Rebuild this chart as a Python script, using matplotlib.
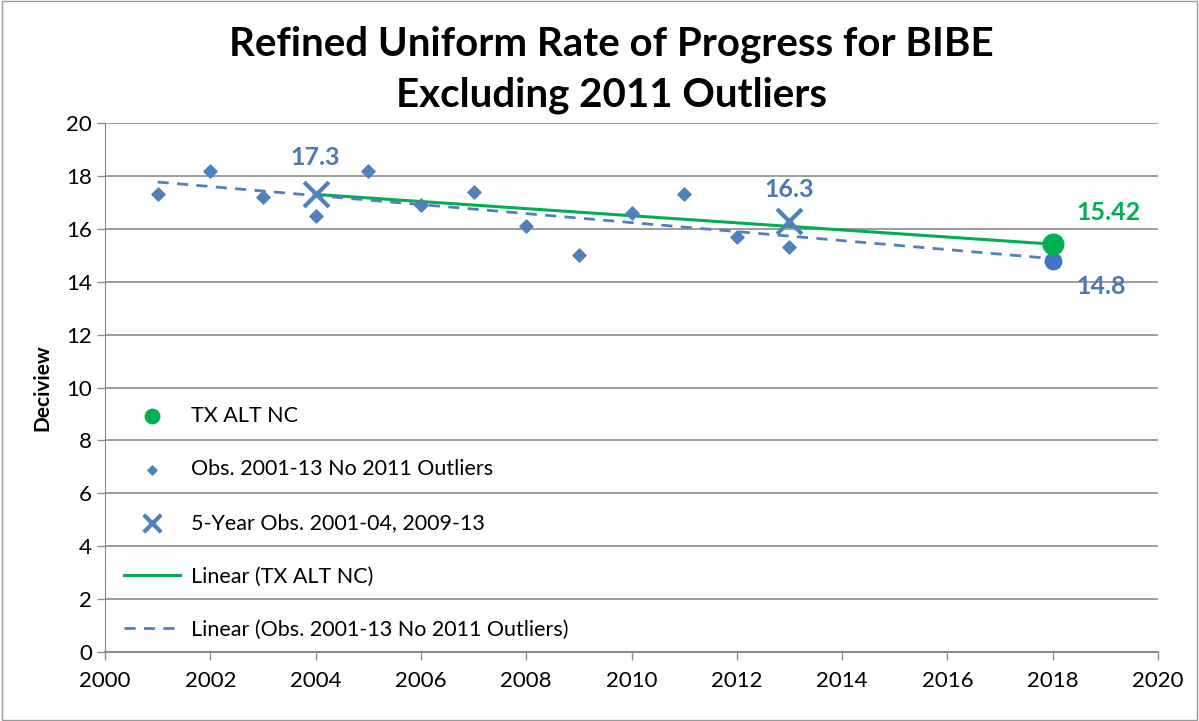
import numpy as np
import matplotlib
matplotlib.use('Agg')
import matplotlib.pyplot as plt

plt.rcParams['font.family'] = ['Lato', 'DejaVu Sans']

# Dane
obs_years = [2001, 2002, 2003, 2004, 2005, 2006, 2007, 2008, 2009, 2010, 2011, 2012, 2013]
obs_values = [17.3, 18.2, 17.2, 16.5, 18.2, 16.9, 17.4, 16.1, 15.0, 16.6, 17.3, 15.7, 15.3]
five_year_years = [2004, 2013]
five_year_values = [17.3, 16.3]
tx_years = [2004, 2018]
tx_values = [17.3, 15.42]
obs_trend_end_year = 2018
obs_trend_end_value = 14.8

blue = '#4F81BD'
label_blue = '#4A7AB5'
green = '#00B050'
grid_gray = '#8C8C8C'

fig = plt.figure(figsize=(11.99, 7.21), dpi=100)
ax = fig.add_axes([105 / 1199, 1 - 652 / 721, (1158 - 105) / 1199, (652 - 123) / 721])

# Linie trendu
tx_fit = np.polyfit(tx_years, tx_values, 1)
tx_x = np.array([2004, 2018])
obs_fit = np.polyfit(obs_years, obs_values, 1)
obs_x = np.array([2001, 2018])

ax.plot(tx_x, np.polyval(tx_fit, tx_x), color=green, lw=2.2, zorder=3, label='Linear (TX ALT NC)')
ax.plot(obs_x, np.polyval(obs_fit, obs_x), color=blue, lw=2, ls=(0, (4, 3)), zorder=3,
        label='Linear (Obs. 2001-13 No 2011 Outliers)')

# Punkty
ax.scatter([2018], [15.42], s=220, color=green, zorder=5, label='TX ALT NC')
ax.scatter(obs_years, obs_values, marker='D', s=45, color=blue, zorder=4,
           label='Obs. 2001-13 No 2011 Outliers')
ax.scatter(five_year_years, five_year_values, marker='x', s=320, color=blue, linewidths=3, zorder=6,
           label='5-Year Obs. 2001-04, 2009-13')
ax.scatter([obs_trend_end_year], [obs_trend_end_value], s=140, color='#4472C4', zorder=4)

# Etykiety wartości
ax.text(2004, 18.7, '17.3', color=label_blue, fontsize=18, fontweight='bold', ha='center', va='center')
ax.text(2013, 17.47, '16.3', color=label_blue, fontsize=18, fontweight='bold', ha='center', va='center')
ax.text(2018.45, 16.63, '15.42', color=green, fontsize=18, fontweight='bold', ha='left', va='center')
ax.text(2018.45, 13.8, '14.8', color=label_blue, fontsize=18, fontweight='bold', ha='left', va='center')

ax.set_xlim(2000, 2020)
ax.set_ylim(0, 20)
ax.set_xticks(range(2000, 2021, 2))
ax.set_yticks(range(0, 21, 2))
ax.tick_params(axis='both', labelsize=16, color=grid_gray, length=6, width=1)
ax.tick_params(axis='x', pad=8)
ax.grid(axis='y', color=grid_gray, lw=1.2)
ax.set_axisbelow(True)
for side in ['top', 'right']:
    ax.spines[side].set_visible(False)
ax.spines['left'].set_color(grid_gray)
ax.spines['bottom'].set_color(grid_gray)
ax.spines['bottom'].set_linewidth(1.5)
ax.set_ylabel('Deciview', fontsize=15, fontweight='bold', labelpad=10)

# Legenda
handles, labels = ax.get_legend_handles_labels()
order = ['TX ALT NC', 'Obs. 2001-13 No 2011 Outliers', '5-Year Obs. 2001-04, 2009-13',
         'Linear (TX ALT NC)', 'Linear (Obs. 2001-13 No 2011 Outliers)']
hmap = dict(zip(labels, handles))
leg = ax.legend([hmap[k] for k in order], order, loc='lower left', bbox_to_anchor=(0.0, -0.014),
                frameon=False, fontsize=15.5, labelspacing=1.56, handlelength=2.6, handletextpad=0.5,
                markerscale=0.7)

fig.suptitle('Refined Uniform Rate of Progress for BIBE\nExcluding 2011 Outliers',
             fontsize=29, fontweight='bold', y=0.965, x=0.51, linespacing=1.45)

fig.patches.append(plt.Rectangle((0.002, 0.002), 0.996, 0.996, transform=fig.transFigure,
                                 fill=False, edgecolor='#9A9A9A', lw=1))

fig.savefig('out.png', dpi=100)
